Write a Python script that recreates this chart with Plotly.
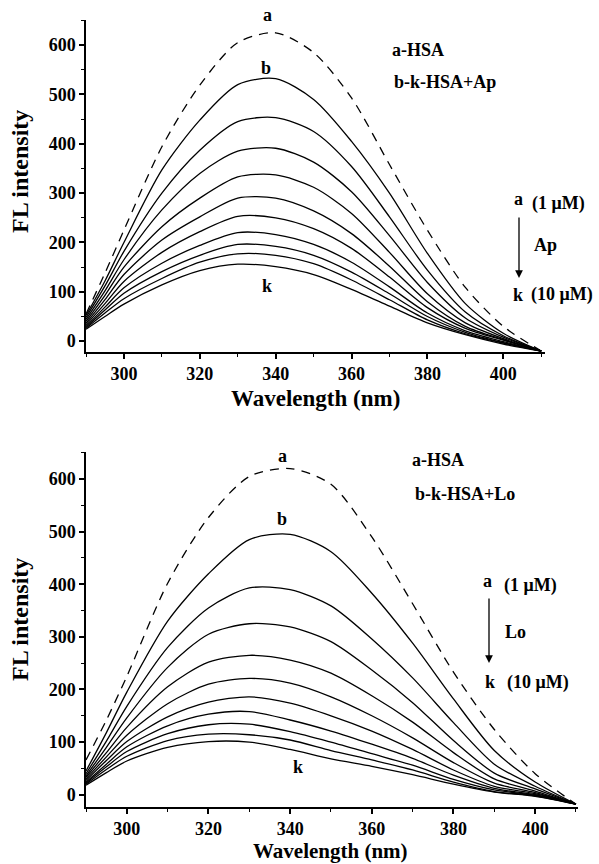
import plotly.graph_objects as go

W, H = 599, 864

# ---------------- data ----------------
wavelength = [290, 295, 300, 310, 320, 330, 340, 350, 360, 370, 380, 390, 400, 410]
curve_names = ["a", "b", "c", "d", "e", "f", "g", "h", "i", "j", "k"]

# Panel 1: HSA + Ap
ap_a = [55, 138, 225, 394, 519, 605, 625, 585, 493, 358, 225, 109, 30, -20]
ap_b = [52, 122, 200, 347, 448, 520, 532, 490, 405, 300, 178, 76, 16, -20]
ap_c = [48, 112, 182, 300, 387, 445, 453, 425, 354, 252, 144, 59, 11, -20]
ap_d = [44, 102, 165, 266, 340, 385, 391, 363, 303, 214, 119, 47, 8, -20]
ap_e = [40, 93, 150, 232, 290, 333, 337, 312, 259, 180, 96, 37, 5, -20]
ap_f = [36, 84, 135, 205, 252, 290, 290, 264, 218, 152, 80, 30, 3, -20]
ap_g = [33, 76, 121, 180, 222, 253, 250, 228, 188, 130, 68, 26, 2, -20]
ap_h = [30, 69, 108, 158, 194, 220, 216, 196, 160, 110, 57, 21, -1, -20]
ap_i = [28, 63, 97, 141, 174, 196, 192, 174, 140, 96, 50, 18, -3, -20]
ap_j = [26, 57, 86, 127, 160, 177, 174, 157, 124, 84, 43, 15, -4, -20]
ap_k = [24, 50, 75, 114, 143, 156, 151, 135, 105, 71, 37, 13, -6, -20]

# Panel 2: HSA + Lo
lo_a = [66, 142, 225, 402, 527, 605, 620, 590, 490, 363, 233, 124, 40, -18]
lo_b = [45, 118, 195, 330, 420, 485, 495, 462, 383, 288, 182, 84, 24, -18]
lo_c = [40, 102, 168, 280, 355, 393, 390, 359, 296, 222, 137, 58, 16, -18]
lo_d = [36, 90, 146, 242, 305, 325, 319, 291, 237, 175, 103, 41, 11, -18]
lo_e = [33, 80, 128, 205, 252, 265, 256, 231, 188, 138, 80, 30, 7, -18]
lo_f = [30, 72, 113, 173, 210, 221, 212, 186, 150, 108, 61, 22, 4, -18]
lo_g = [27, 65, 101, 148, 176, 186, 174, 150, 121, 86, 47, 16, 2, -18]
lo_h = [24, 58, 91, 131, 153, 158, 142, 121, 96, 69, 37, 12, 0, -18]
lo_i = [22, 53, 82, 116, 133, 134, 120, 100, 78, 56, 29, 9, -1, -18]
lo_j = [20, 48, 73, 103, 115, 114, 104, 84, 66, 47, 24, 6, -2, -18]
lo_k = [18, 42, 64, 90, 101, 100, 86, 68, 54, 38, 20, 5, -3, -18]

x_ticks = [300, 320, 340, 360, 380, 400]
y_ticks = [0, 100, 200, 300, 400, 500, 600]

ap_curves = [ap_a, ap_b, ap_c, ap_d, ap_e, ap_f, ap_g, ap_h, ap_i, ap_j, ap_k]
lo_curves = [lo_a, lo_b, lo_c, lo_d, lo_e, lo_f, lo_g, lo_h, lo_i, lo_j, lo_k]

FONT = "Liberation Serif"


def P(x, y):
    return x / W, 1 - y / H


fig = go.Figure()

for panel, curves in ((1, ap_curves), (2, lo_curves)):
    xa = "x" if panel == 1 else "x2"
    ya = "y" if panel == 1 else "y2"
    for name, vals in zip(curve_names, curves):
        fig.add_trace(go.Scatter(
            x=wavelength, y=vals, mode="lines", name=name, xaxis=xa, yaxis=ya,
            line=dict(color="black", width=1.3,
                      dash="9px,7px" if name == "a" else "solid",
                      shape="spline", smoothing=0.8),
            showlegend=False, hoverinfo="skip"))

axis_common = dict(
    showline=True, linecolor="black", linewidth=1.5, mirror=False,
    showgrid=False, zeroline=False, ticks="outside", ticklen=5, tickwidth=1.5,
    tickcolor="black",
    tickfont=dict(family=FONT, size=18, color="black", weight="bold"),
)

x0 = 86 / W
fig.update_layout(
    width=W, height=H, margin=dict(l=0, r=0, t=0, b=0),
    paper_bgcolor="white", plot_bgcolor="white",
    xaxis=dict(domain=[x0, 545 / W], range=[290, 411], anchor="y",
               tickvals=x_ticks, minor=dict(ticks="outside", ticklen=3, dtick=10, tick0=290,
                                            tickcolor="black", tickwidth=1.2),
               **axis_common),
    yaxis=dict(domain=[1 - 352 / H, 1 - 20 / H], range=[-22, 651], anchor="x",
               tickvals=y_ticks, minor=dict(ticks="outside", ticklen=3, dtick=50, tick0=0,
                                            tickcolor="black", tickwidth=1.2),
               **axis_common),
    xaxis2=dict(domain=[x0, 578 / W], range=[290, 410.5], anchor="y2",
                tickvals=x_ticks, minor=dict(ticks="outside", ticklen=3, dtick=10, tick0=290,
                                             tickcolor="black", tickwidth=1.2),
                **axis_common),
    yaxis2=dict(domain=[1 - 807 / H, 1 - 452 / H], range=[-23.4, 651.5], anchor="x2",
                tickvals=y_ticks, minor=dict(ticks="outside", ticklen=3, dtick=50, tick0=0,
                                             tickcolor="black", tickwidth=1.2),
                **axis_common),
)

annotations = []


def text(t, x, y, size=18, xanchor="center", angle=0):
    px, py = P(x, y)
    annotations.append(dict(text="<b>" + t + "</b>", x=px, y=py, xref="paper", yref="paper",
                            xanchor=xanchor, yanchor="middle", showarrow=False, textangle=angle,
                            font=dict(family=FONT, size=size, color="black")))


def arrow(x, y_from, y_to):
    px, py = P(x, y_to)
    annotations.append(dict(x=px, y=py, xref="paper", yref="paper", text="",
                            showarrow=True, ax=0, ay=-(y_to - y_from), arrowhead=2,
                            arrowsize=1.2, arrowwidth=1.3, arrowcolor="black"))


# panel 1 labels
text("a", 267, 15)
text("b", 266, 68)
text("k", 267, 286)
text("a-HSA", 390, 50, xanchor="left")
text("b-k-HSA+Ap", 392, 82, xanchor="left")
text("a", 518, 199)
text("(1 μM)", 530, 203, xanchor="left")
text("Ap", 532, 245, xanchor="left")
text("k", 518, 295)
text("(10 μM)", 529, 295, xanchor="left")
arrow(519, 216, 278)

# panel 2 labels
text("a", 282, 456)
text("b", 282, 519)
text("k", 298, 767)
text("a-HSA", 410, 460, xanchor="left")
text("b-k-HSA+Lo", 413, 494, xanchor="left")
text("a", 487, 581)
text("(1 μM)", 502, 585, xanchor="left")
text("Lo", 503, 632, xanchor="left")
text("k", 490, 682)
text("(10 μM)", 505, 682, xanchor="left")
arrow(489, 597, 663)

# axis titles
text("FL intensity", 20, 172, size=24, angle=-90)
text("FL intensity", 20, 620, size=24, angle=-90)
text("Wavelength (nm)", 315, 398, size=23)
text("Wavelength (nm)", 330, 851, size=21)

fig.update_layout(annotations=annotations)
fig.write_html("out.html", config={"displayModeBar": False},
               post_script="document.body.style.margin='0px';")
